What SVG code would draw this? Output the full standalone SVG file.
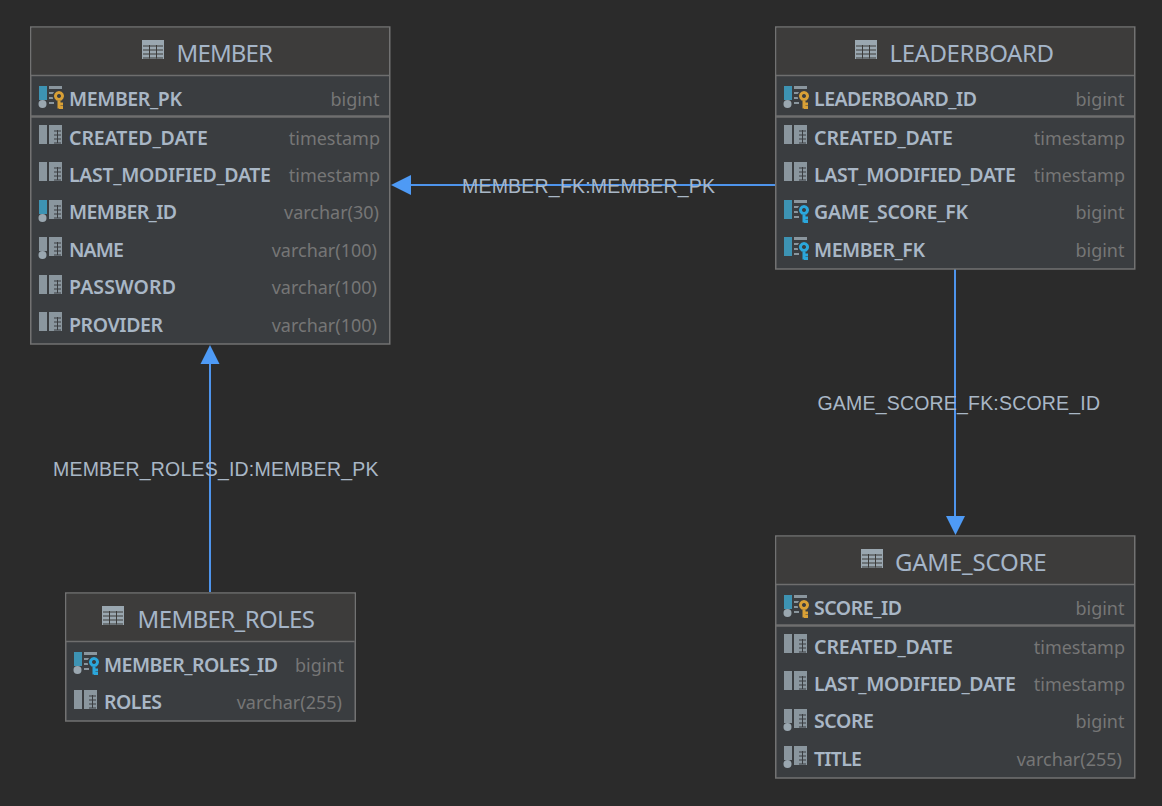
<svg xmlns="http://www.w3.org/2000/svg" width="1162" height="806" viewBox="0 0 1162 806">
<style>
.box{fill:#3a3d40;stroke:#727272;stroke-width:1.5}
.hd{fill:#3d3c3b}
.sep{stroke:#6e6e6e;stroke-width:1.5;fill:none}
.sep2{stroke:#6e6e6e;stroke-width:2.5;fill:none}
.title{font:24px "Noto Sans","Open Sans",sans-serif;fill:#a5b5c8}
.col{font:600 19.5px "Noto Sans","Open Sans",sans-serif;fill:#a9b7c6}
.type{font:18px "Noto Sans","Open Sans",sans-serif;fill:#767676;text-anchor:end}
.lab{font:19.5px "Liberation Sans",Arial,sans-serif;fill:#a9b7c6}
.link{stroke:#4e94ec;stroke-width:2;fill:none}
.head{fill:#4e9af5}
.g{fill:#8a969e}
.b{fill:#3d93b3}
.dot{fill:#9aa7b0}
.ko{stroke:#d8a036;stroke-width:3;fill:none}
.kb{stroke:#2ba7dc;stroke-width:3;fill:none}
</style>
<defs>
<g id="tbl">
<rect width="22" height="19" fill="#9aa7b0"/>
<path d="M1 6h20M1 10h20M1 14h20M1 18h20M7.500 5v13.500M14.500 5v13.500" stroke="#3d3c3b" stroke-width="1" fill="none"/>
</g>
<g id="grid">
<rect x="10" width="13" height="19" class="g"/>
<path d="M15 6h7M15 10h7M15 14h7M15 18h7M18.500 5v13" stroke="#3a3d40" stroke-width="1" fill="none"/>
</g>
<g id="c"><rect width="8" height="19" class="g"/><use href="#grid"/></g>
<g id="ci"><rect width="8" height="14" class="g"/><circle cx="3.500" cy="18" r="4" class="dot"/><use href="#grid"/></g>
<g id="cu"><rect width="8" height="14" class="b"/><circle cx="3.500" cy="18" r="4" class="dot"/><use href="#grid"/></g>
<g id="lines"><path d="M10 0h13v3h-13zM10 6h5v2h-5zM10 11h4v2h-4zM10 16h5v2h-5z" class="g"/><circle cx="20" cy="10" r="6.500" fill="#3a3d40"/></g>
<path id="kp" d="M20 6.500a3.500 3.500 0 1 0 .01 0zM20 13.500v9M20 18h4M20 21.500h4"/>
<g id="key-o"><use href="#lines"/><use href="#kp" class="ko"/></g>
<g id="key-b"><use href="#lines"/><use href="#kp" class="kb"/></g>
<g id="pk"><rect width="8" height="14" class="b"/><circle cx="3.500" cy="18" r="4" class="dot"/><use href="#key-o"/></g>
<g id="pkb"><rect width="8" height="14" class="b"/><circle cx="3.500" cy="18" r="4" class="dot"/><use href="#key-b"/></g>
<g id="fk"><rect width="8" height="19" class="b"/><use href="#key-b"/></g>
</defs>
<rect width="1162" height="806" fill="#2b2b2b"/>
<g id="connectors">
<path class="link" d="M776 185H408"/><path class="head" d="M391 185L411 175V195Z"/>
<path class="link" d="M955 269V518"/><path class="head" d="M955.500 535L946 516H965Z"/>
<path class="link" d="M210 592V362"/><path class="head" d="M210 345L200.500 364H219.500Z"/>
<text class="lab" x="462" y="192.500" textLength="253">MEMBER_FK:MEMBER_PK</text>
<text class="lab" x="817.500" y="409.500" textLength="282.500">GAME_SCORE_FK:SCORE_ID</text>
<text class="lab" x="53" y="475.500" textLength="325.500">MEMBER_ROLES_ID:MEMBER_PK</text>
</g>
<g id="member">
<rect class="box" x="30.750" y="27" width="359" height="317"/>
<rect class="hd" x="31.500" y="27.750" width="357.500" height="47"/>
<path class="sep" d="M31 75.500H389"/><path class="sep2" d="M31 116.500H389"/>
<use href="#tbl" x="142" y="40"/>
<text class="title" x="176.500" y="62" textLength="96.500">MEMBER</text>
<use href="#pk" x="39" y="86"/><text class="col" x="69" y="106" textLength="113">MEMBER_PK</text><text class="type" x="379.500" y="106">bigint</text>
<use href="#c" x="39" y="125"/><text class="col" x="69" y="145" textLength="139">CREATED_DATE</text><text class="type" x="380" y="145">timestamp</text>
<use href="#c" x="39" y="162"/><text class="col" x="69" y="182" textLength="202">LAST_MODIFIED_DATE</text><text class="type" x="380" y="182">timestamp</text>
<use href="#cu" x="39" y="200"/><text class="col" x="69" y="219" textLength="108">MEMBER_ID</text><text class="type" x="379" y="219">varchar(30)</text>
<use href="#ci" x="39" y="237"/><text class="col" x="69" y="257" textLength="55">NAME</text><text class="type" x="377" y="257">varchar(100)</text>
<use href="#c" x="39" y="275"/><text class="col" x="69" y="294" textLength="107">PASSWORD</text><text class="type" x="377" y="294">varchar(100)</text>
<use href="#c" x="39" y="312"/><text class="col" x="69" y="332" textLength="94">PROVIDER</text><text class="type" x="377" y="332">varchar(100)</text>
</g>
<g id="leaderboard">
<rect class="box" x="775.750" y="27" width="359" height="242"/>
<rect class="hd" x="776.500" y="27.750" width="357.500" height="47"/>
<path class="sep" d="M776 75.500H1134"/><path class="sep2" d="M776 116.500H1134"/>
<use href="#tbl" x="855" y="40"/>
<text class="title" x="889.500" y="62" textLength="164.500">LEADERBOARD</text>
<use href="#pk" x="784" y="86"/><text class="col" x="814" y="106" textLength="163">LEADERBOARD_ID</text><text class="type" x="1124.500" y="106">bigint</text>
<use href="#c" x="784" y="125"/><text class="col" x="814" y="145" textLength="139">CREATED_DATE</text><text class="type" x="1125" y="145">timestamp</text>
<use href="#c" x="784" y="162"/><text class="col" x="814" y="182" textLength="202">LAST_MODIFIED_DATE</text><text class="type" x="1125" y="182">timestamp</text>
<use href="#fk" x="784" y="200"/><text class="col" x="814" y="219" textLength="154">GAME_SCORE_FK</text><text class="type" x="1124.500" y="219">bigint</text>
<use href="#fk" x="784" y="237"/><text class="col" x="814" y="257" textLength="111">MEMBER_FK</text><text class="type" x="1124.500" y="257">bigint</text>
</g>
<g id="game_score">
<rect class="box" x="775.750" y="536" width="359" height="242"/>
<rect class="hd" x="776.500" y="536.750" width="357.500" height="47"/>
<path class="sep" d="M776 584.500H1134"/><path class="sep2" d="M776 625.500H1134"/>
<use href="#tbl" x="861" y="549"/>
<text class="title" x="895" y="571" textLength="151.500">GAME_SCORE</text>
<use href="#pk" x="784" y="595"/><text class="col" x="814" y="615" textLength="88">SCORE_ID</text><text class="type" x="1124.500" y="615">bigint</text>
<use href="#c" x="784" y="634"/><text class="col" x="814" y="654" textLength="139">CREATED_DATE</text><text class="type" x="1125" y="654">timestamp</text>
<use href="#c" x="784" y="671"/><text class="col" x="814" y="691" textLength="202">LAST_MODIFIED_DATE</text><text class="type" x="1125" y="691">timestamp</text>
<use href="#ci" x="784" y="709"/><text class="col" x="814" y="728" textLength="60">SCORE</text><text class="type" x="1124.500" y="728">bigint</text>
<use href="#ci" x="784" y="746"/><text class="col" x="814" y="766" textLength="48">TITLE</text><text class="type" x="1122" y="766">varchar(255)</text>
</g>
<g id="member_roles">
<rect class="box" x="65.750" y="593" width="289.500" height="128"/>
<rect class="hd" x="66.500" y="593.750" width="288" height="47"/>
<path class="sep" d="M66 641.500H354.500"/>
<use href="#tbl" x="102" y="606"/>
<text class="title" x="137.500" y="628" textLength="177.500">MEMBER_ROLES</text>
<use href="#pkb" x="74" y="652"/><text class="col" x="104" y="672" textLength="174">MEMBER_ROLES_ID</text><text class="type" x="344" y="672">bigint</text>
<use href="#c" x="74" y="690"/><text class="col" x="104" y="709" textLength="58">ROLES</text><text class="type" x="342" y="709">varchar(255)</text>
</g>
</svg>
